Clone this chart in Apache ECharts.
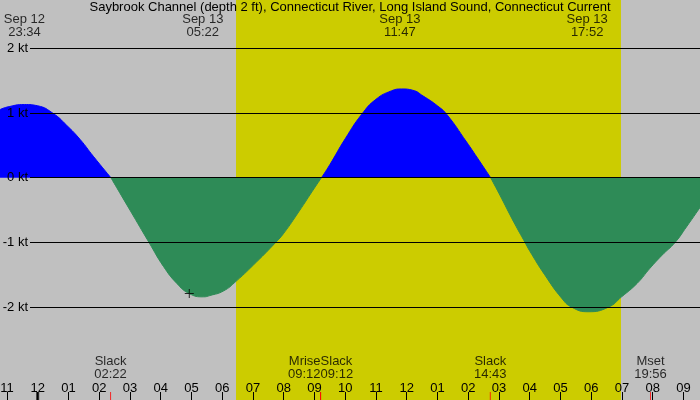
<!DOCTYPE html>
<html>
<head>
<meta charset="utf-8">
<script src="https://cdn.jsdelivr.net/npm/echarts@6/dist/echarts.min.js"></script>
<style>
    html, body {margin: 0; padding: 0; background: #c0c0c0;}
    #chart {width: 700px; height: 400px;}
</style>
</head>
<body>
<div id="chart"></div>
<script>
// hours counted from Sep 13 00:00
var curveHours = [-1.23, -1, -0.43, 0, 0.51, 0.94, 1.38, 1.81, 2.38,
    3, 3.62, 4.09, 4.52, 4.93, 5.39, 5.6, 6.04, 6.45, 7.12, 7.74, 8, 8.5, 9, 9.23,
    9.5, 10, 10.54, 11, 11.5, 11.84, 12.2, 12.54, 13, 13.3, 13.95, 14.28, 14.73,
    15, 15.5, 15.85, 16, 16.49, 17.04, 17.37, 17.9, 18.56, 18.99, 19.5, 19.91, 20.3, 20.73, 21.1, 21.54];
var curveKnots = [1.05, 1.09, 1.13, 1.11, 0.99, 0.81, 0.59, 0.33, 0,
    -0.5, -1.0, -1.37, -1.63, -1.79, -1.84, -1.82, -1.75, -1.6, -1.3, -1.0, -0.86, -0.52, -0.16, 0,
    0.2, 0.6, 0.98, 1.21, 1.34, 1.37, 1.35, 1.26, 1.11, 0.98, 0.55, 0.32, 0,
    -0.24, -0.7, -1.0, -1.13, -1.5, -1.86, -2.0, -2.07, -2.0, -1.84, -1.63, -1.4, -1.2, -1.0, -0.76, -0.46];

var knotLines = [2, 1, 0, -1, -2];
var hourTicks = [-1, 0, 1, 2, 3, 4, 5, 6, 7, 8, 9, 10, 11, 12, 13, 14, 15, 16, 17, 18, 19, 20, 21];
var midnightHours = [0];

var sunrise = 6.45, sunset = 18.97;

// max flood / max ebb labels at the top
var peakHours = [-0.43, 5.37, 11.78, 17.87];
var peakDates = ['Sep 12', 'Sep 13', 'Sep 13', 'Sep 13'];
var peakTimes = ['23:34', '05:22', '11:47', '17:52'];

// slack and moon events at the bottom
var eventHours = [2.37, 9.2, 9.2, 14.72, 19.93];
var eventNames = ['Slack', 'Mrise', 'Slack', 'Slack', 'Mset'];
var eventTimes = ['02:22', '09:12', '09:12', '14:43', '19:56'];

var markHour = 4.93, markKnots = -1.79;

var xMin = -1.226, xMax = 21.54, yMin = -3.433, yMax = 2.744;
var font = 'Liberation Sans';

(function () {
    var hourLabel = function (h) {
        var v = ((h % 12) + 12) % 12;
        if (v === 0) v = 12;
        return (v < 10 ? '0' : '') + v;
    };

    //涨潮、落潮分开两段，转流点(0)两段都有
    var flood = [], ebb = [];
    for (var i = 0; i < curveHours.length; i++) {
        var v = curveKnots[i];
        flood.push([curveHours[i], v >= 0 ? v : null]);
        ebb.push([curveHours[i], v <= 0 ? v : null]);
    }

    var gridLines = [], gridLabels = [];
    knotLines.forEach(function (v) {
        gridLines.push([{coord: [-0.25, v]}, {coord: [xMax, v]}]);
        gridLabels.push([{coord: [-0.25, v], name: v + ' kt'}, {coord: [xMax, v]}]);
    });

    var peaks = peakHours.map(function (h, i) {
        return {value: [h, yMax], name: peakDates[i] + '\n' + peakTimes[i]};
    });

    var events = eventHours.map(function (h, i) {
        var item = {value: [h, yMin], name: eventNames[i] + '\n' + eventTimes[i]};
        //同一时间的两个事件，左右错开
        if (eventHours[i + 1] === h) item.label = {align: 'right'};
        if (eventHours[i - 1] === h) item.label = {align: 'left'};
        return item;
    });

    var makeLabel = function (pos, dist, lineHeight) {
        return {
            show: true,
            position: pos,
            distance: dist,
            formatter: '{b}',
            fontFamily: font,
            fontSize: 13,
            lineHeight: lineHeight,
            color: '#000'
        };
    };

    var curveSeries = function (data, color) {
        return {
            type: 'line',
            data: data,
            z: 3,
            smooth: 0.5,
            connectNulls: false,
            showSymbol: false,
            lineStyle: {width: 1, color: color},
            itemStyle: {color: color},
            areaStyle: {opacity: 1, color: color}
        };
    };

    var option = {
        backgroundColor: '#c0c0c0',
        animation: false,
        title: {
            text: 'Saybrook Channel (depth 2 ft), Connecticut River, Long Island Sound, Connecticut Current',
            left: 'center',
            top: 1,
            padding: 0,
            textStyle: {fontFamily: font, fontSize: 13, fontWeight: 'normal', color: '#000'}
        },
        grid: {left: 0, right: 0, top: 0, bottom: 0, containLabel: false, outerBoundsMode: 'none'},
        xAxis: {
            type: 'value',
            min: xMin,
            max: xMax,
            z: 10,
            axisLine: {show: false, onZero: false},
            splitLine: {show: false},
            axisTick: {inside: true, length: 8, customValues: hourTicks, lineStyle: {color: '#000', width: 1}},
            axisLabel: {
                inside: true,
                margin: 5,
                customValues: hourTicks,
                fontFamily: font,
                fontSize: 13,
                color: '#000',
                formatter: hourLabel
            }
        },
        yAxis: {type: 'value', min: yMin, max: yMax, show: false},
        series: [
            {
                //白天背景
                type: 'line',
                data: [],
                z: 1,
                markArea: {
                    silent: true,
                    itemStyle: {color: '#cccc00', opacity: 1},
                    data: [[{xAxis: sunrise}, {xAxis: sunset}]]
                }
            },
            {
                //刻度线
                type: 'line',
                data: [],
                z: 2,
                markLine: {
                    silent: true,
                    symbol: ['none', 'none'],
                    label: {show: false},
                    lineStyle: {color: '#000', width: 1, type: 'solid'},
                    data: gridLines
                }
            },
            curveSeries(flood, '#0000ff'),
            curveSeries(ebb, '#2e8b57'),
            {
                //刻度文字
                type: 'line',
                data: [],
                z: 5,
                markLine: {
                    silent: true,
                    symbol: ['none', 'none'],
                    lineStyle: {color: 'rgba(0,0,0,0)', width: 0},
                    label: {
                        show: true,
                        position: 'start',
                        distance: 2,
                        formatter: '{b}',
                        fontFamily: font,
                        fontSize: 13,
                        color: '#000'
                    },
                    data: gridLabels
                }
            },
            {
                type: 'scatter',
                data: peaks,
                z: 5,
                symbol: 'rect',
                symbolSize: 1,
                itemStyle: {color: 'rgba(0,0,0,0)'},
                label: makeLabel('bottom', 13, 12.5)
            },
            {
                type: 'scatter',
                data: events,
                z: 6,
                symbol: 'rect',
                symbolSize: [1, 16],
                itemStyle: {color: '#ff0000'},
                label: makeLabel('top', 11, 13)
            },
            {
                type: 'scatter',
                data: midnightHours.map(function (h) { return [h, yMin]; }),
                z: 6,
                symbol: 'rect',
                symbolSize: [3, 16],
                itemStyle: {color: '#000'}
            },
            {
                type: 'scatter',
                data: [[markHour, markKnots]],
                z: 6,
                symbol: 'path://M0,4h9v1h-9zM4,0h1v9h-1z',
                symbolSize: [9, 9],
                itemStyle: {color: '#000'}
            }
        ]
    };

    var myChart = echarts.init(document.getElementById('chart'));
    myChart.setOption(option);
})();
</script>
</body>
</html>
